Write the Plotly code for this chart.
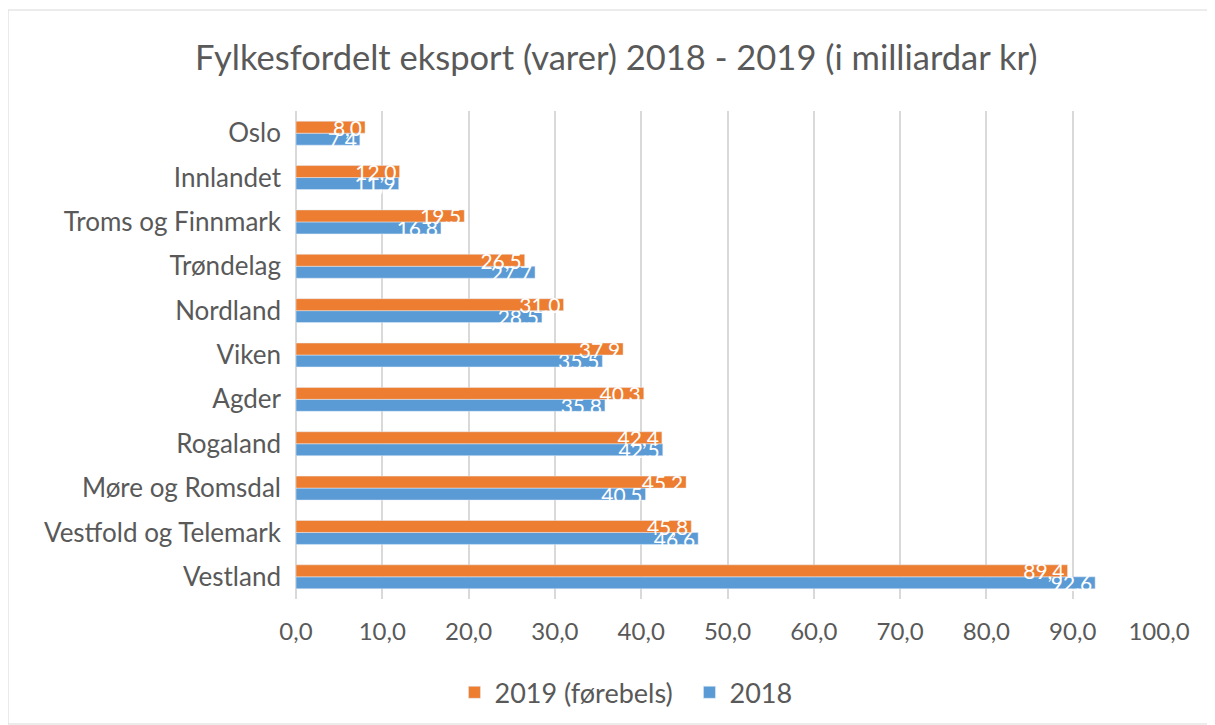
import plotly.graph_objects as go

categories = ["Oslo", "Innlandet", "Troms og Finnmark", "Trøndelag", "Nordland", "Viken",
              "Agder", "Rogaland", "Møre og Romsdal", "Vestfold og Telemark", "Vestland"]
values_2019 = [8.0, 12.0, 19.5, 26.5, 31.0, 37.9, 40.3, 42.4, 45.2, 45.8, 89.4]
values_2018 = [7.4, 11.9, 16.8, 27.7, 28.5, 35.5, 35.8, 42.5, 40.5, 46.6, 92.6]
name_2019 = "2019 (førebels)"
name_2018 = "2018"
title = "Fylkesfordelt eksport (varer) 2018 - 2019 (i milliardar kr)"

FONT = "Lato, Carlito, Calibri, sans-serif"
GREY = "#595959"

# reverse so Oslo is on top
cats = categories[::-1]
v19 = values_2019[::-1]
v18 = values_2018[::-1]

fig = go.Figure()
fig.add_trace(go.Bar(
    y=cats, x=v18, orientation="h", name=name_2018,
    marker=dict(color="#5B9BD5"),
    texttemplate="%{x:.1f}", textposition="inside", insidetextanchor="end",
    constraintext="none", cliponaxis=False,
    textfont=dict(color="white", size=21, family=FONT), legendrank=2,
))
fig.add_trace(go.Bar(
    y=cats, x=v19, orientation="h", name=name_2019,
    marker=dict(color="#ED7D31"),
    texttemplate="%{x:.1f}", textposition="inside", insidetextanchor="end",
    constraintext="none", cliponaxis=False,
    textfont=dict(color="white", size=21, family=FONT), legendrank=1,
))

fig.update_layout(
    width=1207, height=717,
    margin=dict(l=288, r=56, t=103, b=126, autoexpand=False),
    paper_bgcolor="white", plot_bgcolor="white",
    barmode="group", bargap=0.46, bargroupgap=0,
    separators=", ",
    font=dict(family=FONT, color=GREY),
    title=dict(text=title, x=0.504, xref="container", xanchor="center",
               y=0.93, yref="container", yanchor="middle",
               font=dict(size=34.5, color=GREY, family=FONT)),
    showlegend=True,
    legend=dict(orientation="h", x=0.5646, xanchor="center", xref="container",
                y=0.045, yanchor="middle", yref="container",
                entrywidth=190, entrywidthmode="pixels", itemwidth=30,
                font=dict(size=27, color=GREY, family=FONT)),
    xaxis=dict(range=[0, 100], dtick=10, tickformat=".1f", showgrid=True,
               gridcolor="#D9D9D9", gridwidth=2, zeroline=False, tickangle=0,
               tickfont=dict(size=24, color=GREY, family=FONT), ticks="",
               ticklabelstandoff=16, showline=False, automargin=False),
    yaxis=dict(tickfont=dict(size=26, color=GREY, family=FONT), ticks="",
               ticklabelstandoff=14, showline=False, showgrid=False, automargin=False),
)
fig.add_shape(type="line", xref="paper", yref="paper", x0=0, x1=0, y0=0, y1=1,
              line=dict(color="#D9D9D9", width=2), layer="below")
fig.add_shape(type="rect", xref="paper", yref="paper",
              x0=-0.3337, x1=1.0637, y0=(591 - 716) / 488, y1=1 + (103 - 2) / 488,
              line=dict(color="#D9D9D9", width=1))

fig.write_html("out.html")
